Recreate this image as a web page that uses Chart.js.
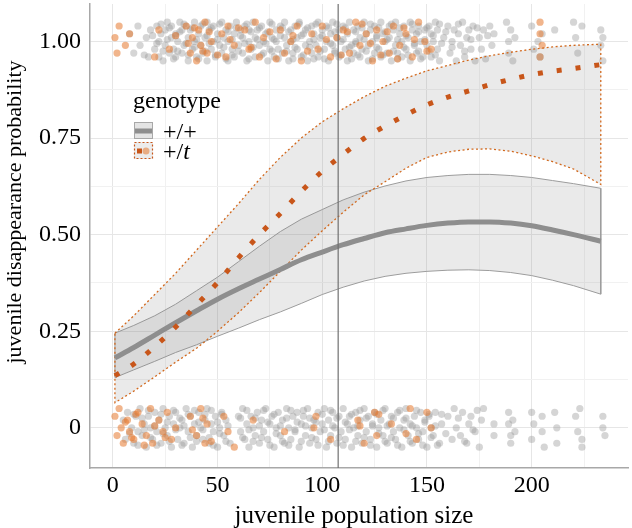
<!DOCTYPE html>
<html><head><meta charset="utf-8">
<script src="https://cdn.jsdelivr.net/npm/chart.js@4"></script>
<style>html,body{margin:0;padding:0;background:#fff}canvas{display:block}</style>
</head><body>
<canvas id="c" width="632" height="528"></canvas>
<script>
// ---- data ----
const xs      = [1,10,20,30,40,50,60,70,80,90,100,110,120,130,140,150,160,170,180,190,200,210,220,233];
const wwFit   = [0.181,0.208,0.24,0.272,0.303,0.333,0.36,0.385,0.41,0.435,0.455,0.474,0.49,0.505,0.515,0.524,0.53,0.533,0.533,0.53,0.523,0.512,0.5,0.483];
const wwUpper = [0.245,0.265,0.29,0.32,0.355,0.39,0.43,0.47,0.508,0.54,0.565,0.59,0.61,0.626,0.639,0.648,0.653,0.656,0.656,0.653,0.648,0.64,0.632,0.62];
const wwLower = [0.13,0.15,0.172,0.195,0.215,0.237,0.258,0.28,0.3,0.322,0.345,0.364,0.38,0.392,0.4,0.405,0.408,0.409,0.407,0.402,0.394,0.382,0.368,0.346];
const wtFit   = [0.135,0.165,0.21,0.261,0.318,0.376,0.44,0.5,0.555,0.612,0.664,0.708,0.749,0.781,0.81,0.836,0.856,0.872,0.888,0.902,0.914,0.923,0.93,0.94];
const wtUpper = [0.245,0.29,0.345,0.4,0.46,0.52,0.58,0.643,0.7,0.75,0.792,0.826,0.857,0.884,0.905,0.924,0.938,0.952,0.963,0.972,0.98,0.986,0.99,0.993];
const wtLower = [0.065,0.095,0.132,0.17,0.206,0.25,0.298,0.35,0.405,0.46,0.51,0.558,0.603,0.637,0.672,0.7,0.714,0.721,0.722,0.716,0.704,0.689,0.67,0.63];

// jittered observations: [population size, vertical jitter in hundredths]
const topGray = [[8,2],[10,-3],[12,4],[13,-1],[16,1],[17,-4],[18,3],[20,-2],[21,4],[22,0],[22,-4],[23,2],[24,-5],[25,3],[25,-1],[26,5],[27,-3],[28,1],[28,4],[29,-2],[30,-4],[30,2],[31,0],[32,5],[33,-3],[33,3],[34,-1],[35,4],[36,-5],[36,1],[37,3],[38,-2],[39,0],[39,5],[40,-4],[41,2],[42,-1],[42,4],[43,-3],[44,1],[45,5],[45,-5],[46,3],[47,-2],[48,0],[48,4],[49,-4],[50,2],[51,-1],[52,5],[52,-3],[53,1],[54,3],[55,-5],[55,0],[56,4],[57,-2],[58,2],[58,-4],[59,5],[60,-1],[61,3],[62,-3],[62,1],[63,4],[64,-5],[65,0],[65,3],[66,-2],[67,5],[68,-4],[68,1],[69,3],[70,-1],[71,4],[72,-3],[72,0],[73,2],[74,-5],[75,5],[75,-2],[76,1],[77,-4],[78,3],[78,0],[79,-2],[80,4],[81,-3],[82,1],[82,5],[83,-1],[84,-5],[85,3],[85,0],[86,-3],[87,4],[88,1],[88,-2],[89,5],[90,-4],[91,2],[92,-1],[92,3],[93,-5],[94,0],[95,4],[95,-3],[96,2],[97,-1],[98,5],[98,-4],[99,1],[100,3],[101,-2],[102,0],[102,4],[103,-5],[104,2],[105,-1],[105,5],[106,-3],[107,1],[108,3],[108,-4],[109,0],[110,4],[111,-2],[112,2],[112,-5],[113,5],[114,-1],[115,3],[115,-3],[116,0],[117,4],[118,-4],[118,1],[119,-2],[120,5],[121,2],[122,-1],[122,-5],[123,3],[124,0],[125,4],[125,-3],[126,1],[127,-2],[128,5],[128,-4],[129,2],[130,0],[131,-3],[132,4],[132,1],[133,-5],[134,3],[135,-1],[135,5],[136,-3],[137,2],[138,0],[138,-4],[139,4],[140,-2],[141,1],[142,5],[142,-5],[143,3],[144,-1],[145,2],[145,-3],[146,4],[147,0],[148,-4],[149,3],[150,-1],[151,4],[152,-4],[152,2],[153,0],[154,5],[155,-2],[155,3],[156,-5],[158,1],[160,4],[161,-3],[162,0],[163,3],[164,-5],[165,2],[166,-1],[167,5],[168,-4],[169,1],[170,3],[171,-2],[172,4],[173,-5],[175,1],[176,-2],[177,3],[180,4],[181,-1],[182,2],[188,5],[189,0],[189,-3],[190,3],[191,-5],[192,1],[200,4],[201,-2],[203,0],[204,-4],[205,2],[211,3],[220,5],[221,1],[222,-3],[224,4],[233,3],[233,-1],[234,-5],[234,1]];
const topGray2 = [[15,-3.5],[19,1.5],[21,-0.5],[23,4.5],[24,-2.5],[26,0.5],[27,3.5],[29,-4.5],[30,1.5],[31,-2.5],[32,2.5],[34,4.5],[35,-0.5],[36,-3.5],[38,3.5],[39,-1.5],[40,0.5],[41,-4.5],[43,4.5],[44,-2.5],[45,1.5],[46,-0.5],[47,3.5],[49,-3.5],[50,0.5],[51,4.5],[53,-1.5],[54,-4.5],[55,2.5],[57,0.5],[57,-3.5],[59,3.5],[60,-2.5],[61,1.5],[63,-0.5],[64,4.5],[65,-4.5],[66,2.5],[67,-1.5],[69,0.5],[70,3.5],[71,-3.5],[73,-0.5],[74,2.5],[76,4.5],[76,-2.5],[77,0.5],[79,-4.5],[80,1.5],[81,3.5],[83,-2.5],[84,2.5],[86,0.5],[86,-4.5],[87,-1.5],[89,4.5],[90,1.5],[91,-3.5],[93,3.5],[94,-1.5],[96,-4.5],[96,0.5],[97,4.5],[99,-2.5],[100,1.5],[101,-4.5],[103,3.5],[104,-0.5],[106,2.5],[106,-2.5],[107,4.5],[109,-3.5],[110,0.5],[111,3.5],[113,-1.5],[114,-4.5],[116,2.5],[116,-0.5],[117,-3.5],[119,3.5],[120,0.5],[121,-2.5],[123,4.5],[124,-4.5],[126,1.5],[126,-1.5],[127,3.5],[129,-3.5],[130,2.5],[131,0.5],[133,4.5],[134,-2.5],[136,0.5],[136,-4.5],[137,3.5],[139,-1.5],[140,1.5],[141,-3.5],[143,4.5],[144,-0.5],[146,2.5],[146,-2.5],[147,-4.5],[149,0.5],[150,3.5],[151,-2.5],[153,1.5],[154,-3.5],[156,4.5],[157,-0.5],[159,2.5],[162,-1.5],[165,4.5],[168,-2.5],[171,0.5],[174,3.5],[178,-4.5],[179,1.5]];
const topOrange = [[1,1],[2,-3],[3,4],[6,-1],[8,2],[20,-4],[22,3],[27,-2],[35,4],[37,-3],[38,1],[40,-5],[41,3],[42,-1],[44,5],[45,-3],[47,0],[52,2],[54,-4],[55,4],[58,-1],[63,3],[65,-2],[68,5],[70,-4],[72,1],[80,3],[82,-3],[85,0],[88,4],[90,-5],[95,2],[98,-2],[100,4],[104,-4],[107,1],[110,3],[113,-3],[116,5],[118,-1],[121,2],[124,-5],[126,3],[129,0],[132,-3],[134,4],[137,-1],[140,2],[143,-4],[146,5],[149,0],[152,-2],[204,5],[204,2],[205,-1],[204,-4],[30,1.5],[36,-0.5],[39,3.5],[43,-2.5],[46,2.5],[50,-3.5],[56,0.5],[60,3.5],[66,-1.5],[75,2.5],[78,-4.5],[86,1.5],[93,-2.5],[102,0.5],[109,-3.5],[112,2.5],[119,4.5],[123,-0.5],[128,-3.5],[131,2.5],[136,-4.5],[139,3.5],[144,0.5],[150,-2.5]];
const botGray = [[5,2],[6,-3],[7,4],[9,0],[10,-4],[11,3],[12,-1],[13,5],[14,-2],[15,1],[16,-5],[17,3],[18,0],[19,-3],[20,4],[21,-1],[22,2],[23,-4],[24,5],[25,0],[26,-2],[27,3],[28,-5],[29,1],[30,4],[31,-3],[32,0],[33,2],[34,-4],[35,5],[36,-1],[37,3],[38,-5],[39,1],[40,-2],[41,4],[42,0],[43,-3],[44,2],[45,5],[46,-4],[47,1],[48,-1],[49,3],[50,-5],[51,0],[52,4],[53,-2],[54,2],[56,-4],[60,3],[61,-1],[62,5],[63,-3],[64,1],[65,-5],[66,3],[67,0],[68,-2],[69,4],[70,-4],[71,2],[72,-1],[73,5],[74,-3],[75,1],[76,3],[77,-5],[78,0],[79,4],[80,-2],[81,2],[82,-4],[83,5],[84,0],[85,-3],[86,3],[87,-1],[88,4],[89,-5],[90,1],[91,3],[92,-2],[93,5],[94,-4],[95,0],[96,2],[97,-3],[98,4],[99,-1],[100,1],[101,5],[102,-5],[103,2],[104,-2],[105,4],[106,0],[107,-4],[108,3],[109,-1],[110,5],[111,-3],[112,1],[113,3],[114,-5],[115,0],[116,4],[117,-2],[118,2],[119,-4],[120,5],[121,-1],[122,3],[123,-3],[124,1],[125,4],[126,-5],[127,0],[128,2],[129,-2],[130,5],[131,-4],[132,1],[133,3],[134,-1],[135,-3],[136,4],[137,0],[138,-5],[139,2],[140,5],[141,-2],[142,1],[143,-4],[144,3],[145,0],[146,-3],[147,4],[148,-1],[149,2],[150,-5],[151,3],[152,0],[153,-2],[154,4],[156,-4],[157,1],[160,3],[162,-3],[163,5],[164,0],[166,-2],[167,4],[169,-4],[170,1],[171,3],[173,-1],[175,-5],[176,2],[177,5],[182,1],[182,-2],[189,4],[189,1],[190,-2],[190,-4],[191,2],[192,-1],[200,4],[200,-3],[201,1],[205,3],[205,-1],[206,-5],[211,4],[212,0],[212,-4],[221,3],[222,-1],[223,5],[224,-3],[224,-5],[234,3],[234,0],[235,-2]];
const botGray2 = [[8,-1.5],[10,3.5],[12,-4.5],[14,2.5],[15,-0.5],[17,4.5],[18,-2.5],[20,0.5],[21,-4.5],[23,3.5],[24,-1.5],[26,1.5],[27,-3.5],[29,4.5],[30,-0.5],[32,2.5],[33,-4.5],[34,0.5],[36,3.5],[37,-2.5],[39,4.5],[40,-3.5],[41,1.5],[43,-0.5],[44,3.5],[46,-2.5],[47,4.5],[48,-4.5],[50,1.5],[51,-1.5],[52,3.5],[54,-3.5],[55,0.5],[61,2.5],[62,-2.5],[64,4.5],[65,-0.5],[67,-3.5],[68,2.5],[70,0.5],[71,-2.5],[72,4.5],[74,1.5],[75,-4.5],[77,3.5],[78,-1.5],[80,0.5],[81,-3.5],[83,2.5],[84,-4.5],[85,4.5],[87,-0.5],[88,1.5],[90,-3.5],[91,4.5],[92,0.5],[94,2.5],[95,-2.5],[97,1.5],[98,-4.5],[100,3.5],[101,-0.5],[103,-3.5],[104,4.5],[105,0.5],[107,2.5],[108,-2.5],[110,-4.5],[111,1.5],[113,-0.5],[114,3.5],[116,-3.5],[117,0.5],[118,4.5],[120,-2.5],[121,2.5],[123,-4.5],[124,0.5],[126,3.5],[127,-1.5],[129,4.5],[130,-3.5],[131,0.5],[133,-2.5],[134,2.5],[136,-4.5],[137,4.5],[139,-0.5],[140,2.5],[142,-3.5],[143,0.5],[145,4.5],[146,-1.5],[148,-4.5],[149,1.5],[151,3.5],[152,-2.5],[154,0.5],[155,-4.5],[157,3.5],[159,-1.5],[165,2.5],[168,-3.5],[172,-0.5],[174,4.5]];
const botOrange = [[1,3],[2,-2],[3,5],[4,0],[5,-4],[7,2],[8,-1],[10,-3],[12,4],[14,1],[16,-2],[18,5],[19,-4],[22,2],[24,-1],[26,4],[28,-3],[30,0],[37,3],[40,-2],[42,5],[44,-4],[45,1],[53,3],[55,-1],[58,-5],[67,2],[82,-1],[96,0],[97,3],[104,-3],[117,2],[120,-4],[125,4],[126,-2],[133,1],[142,5],[145,-3],[150,4],[152,0],[6,1.5],[9,-2.5],[11,3.5],[15,-4.5],[20,0.5],[25,-2.5],[38,-0.5],[43,2.5],[47,-3.5],[118,0.5],[127,3.5],[140,-1.5]];

const xTicks      = [0,25,50,75,100,125,150,175,200,225];
const xTickLabels = ['0','','50','','100','','150','','200',''];
const yTicks      = [0,0.125,0.25,0.375,0.5,0.625,0.75,0.875,1];
const yTickLabels = ['0','','0.25','','0.50','','0.75','','1.00'];
const vLineX = 107.6;
const genotypes = ['+/+','+/', 't'];
const xTitle = 'juvenile population size';
const yTitle = 'juvenile disappearance probability';

// ---- helpers ----
const SERIF = "'Liberation Serif','Times New Roman',serif";
const pts = (arr, base) => arr.map(p => ({x: p[0], y: base + p[1] / 100}));
const curve = ys => xs.map((x, i) => ({x, y: ys[i]}));
function band(up, lo) {
  const a = xs.map((x, i) => ({x, y: up[i]}));
  for (let i = xs.length - 1; i >= 0; i--) a.push({x: xs[i], y: lo[i]});
  a.push({x: xs[0], y: up[0]});
  return a;
}
const GRAY_PT = 'rgba(150,150,150,0.4)';
const ORANGE_PT = 'rgba(230,120,45,0.55)';
const ORANGE = '#c8561a';

const legendPlugin = {
  id: 'geno',
  afterDraw(chart) {
    const c = chart.ctx;
    c.save();
    c.fillStyle = '#000';
    c.textBaseline = 'alphabetic';
    // axis titles
    c.font = '25px ' + SERIF;
    c.textAlign = 'center';
    c.fillText(xTitle, 354, 523);
    c.save();
    c.translate(21, 212);
    c.rotate(-Math.PI / 2);
    c.font = '22px ' + SERIF;
    c.fillText(yTitle, 0, 0);
    c.restore();
    c.textAlign = 'left';
    // legend
    c.font = '24px ' + SERIF;
    c.fillText('genotype', 133, 108);
    c.fillStyle = '#e4e4e4';
    c.fillRect(134, 122, 19, 17);
    c.strokeStyle = '#a8a8a8'; c.lineWidth = 1;
    c.strokeRect(134.5, 122.5, 18, 16);
    c.strokeStyle = '#8e8e8e'; c.lineWidth = 5;
    c.beginPath(); c.moveTo(135, 131); c.lineTo(152, 131); c.stroke();
    c.fillStyle = '#ececec';
    c.fillRect(134, 142, 19, 17);
    c.strokeStyle = ORANGE; c.lineWidth = 1.2; c.setLineDash([2, 2]);
    c.strokeRect(134.5, 142.5, 18, 16);
    c.setLineDash([]);
    c.fillStyle = ORANGE_PT;
    c.beginPath(); c.arc(146, 151, 3.5, 0, Math.PI * 2); c.fill();
    c.fillStyle = ORANGE;
    c.fillRect(137, 148.5, 5, 5);
    c.fillStyle = '#000';
    c.font = '24px ' + SERIF;
    c.fillText(genotypes[0], 163, 139);
    c.fillText(genotypes[1], 163, 159);
    const w = c.measureText(genotypes[1]).width;
    c.font = 'italic 24px ' + SERIF;
    c.fillText(genotypes[2], 163 + w, 159);
    c.restore();
  }
};

const ptDs = (label, data, color, order) =>
  ({label, data, backgroundColor: color, pointRadius: 3.6, borderWidth: 0, order});

new Chart(document.getElementById('c'), {
  type: 'scatter',
  data: {datasets: [
    {label: 'vline', data: [{x: vLineX, y: -0.3}, {x: vLineX, y: 1.3}], showLine: true,
     borderColor: '#707070', borderWidth: 1.2, pointRadius: 0, order: 0},
    {label: '+/t fit', data: curve(wtFit), showLine: true, borderColor: ORANGE, borderWidth: 5,
     borderDash: [5, 14], borderCapStyle: 'butt', pointRadius: 0, cubicInterpolationMode: 'monotone', order: 1},
    {label: '+/+ fit', data: curve(wwFit), showLine: true, borderColor: '#8e8e8e', borderWidth: 5,
     pointRadius: 0, cubicInterpolationMode: 'monotone', order: 2},
    {label: '+/t CI', data: band(wtUpper, wtLower), showLine: true, fill: 'shape',
     backgroundColor: 'rgba(128,128,128,0.17)', borderColor: '#d2691e', borderWidth: 1.3,
     borderDash: [2, 2.5], pointRadius: 0, tension: 0, order: 3},
    {label: '+/+ CI', data: band(wwUpper, wwLower), showLine: true, fill: 'shape',
     backgroundColor: 'rgba(128,128,128,0.17)', borderColor: '#9c9c9c', borderWidth: 1,
     pointRadius: 0, tension: 0, order: 4},
    ptDs('top +/+', pts(topGray, 1), GRAY_PT, 6),
    ptDs('top +/+ b', pts(topGray2, 1), GRAY_PT, 6),
    ptDs('bottom +/+', pts(botGray, 0), GRAY_PT, 6),
    ptDs('bottom +/+ b', pts(botGray2, 0), GRAY_PT, 6),
    ptDs('top +/t', pts(topOrange, 1), ORANGE_PT, 5),
    ptDs('bottom +/t', pts(botOrange, 0), ORANGE_PT, 5)
  ]},
  options: {
    responsive: false, animation: false, devicePixelRatio: 1,
    layout: {padding: 0},
    plugins: {legend: {display: false}, tooltip: {enabled: false}},
    scales: {
      x: {
        type: 'linear', min: -10.9, max: 246,
        afterBuildTicks: s => { s.ticks = xTicks.map(v => ({value: v})); },
        afterFit: s => { s.height = 60; s.paddingLeft = 0; s.paddingRight = 0; },
        ticks: {autoSkip: false, maxRotation: 0, padding: 3, color: '#000',
                font: {family: SERIF, size: 24}, callback: (v, i) => xTickLabels[i]},
        grid: {drawTicks: false, lineWidth: 1,
               color: ctx => xTickLabels[ctx.index] ? '#e6e6e6' : '#f1f1f1'},
        border: {display: true, color: '#a8a8a8', width: 1.5},
        title: {display: false}
      },
      y: {
        type: 'linear', min: -0.104, max: 1.097,
        afterBuildTicks: s => { s.ticks = yTicks.map(v => ({value: v})); },
        afterFit: s => { s.width = 90; s.paddingTop = 0; s.paddingBottom = 0; },
        ticks: {autoSkip: false, padding: 9, color: '#000',
                font: {family: SERIF, size: 24}, callback: (v, i) => yTickLabels[i]},
        grid: {drawTicks: false, lineWidth: 1,
               color: ctx => yTickLabels[ctx.index] ? '#e6e6e6' : '#f1f1f1'},
        border: {display: true, color: '#a8a8a8', width: 1.5},
        title: {display: false}
      }
    }
  },
  plugins: [legendPlugin]
});
</script>
</body></html>
